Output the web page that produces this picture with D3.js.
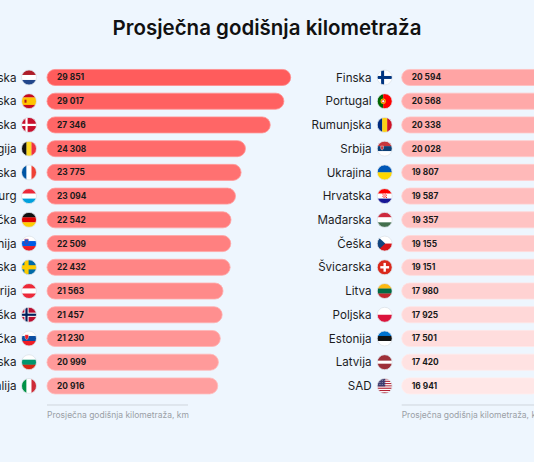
<!DOCTYPE html>
<html><head><meta charset="utf-8">
<script src="https://cdn.jsdelivr.net/npm/d3@7"></script>
<style>
html,body{margin:0;padding:0;background:#eef6fe;}
svg{display:block;font-family:Inter,"Noto Sans",sans-serif;}
</style></head>
<body><svg id="c" width="534" height="462"></svg>
<script>
const leftCountries = ["Nizozemska","Španjolska","Danska","Belgija","Francuska","Luksemburg","Njemačka","Slovenija","Švedska","Austrija","Norveška","Slovačka","Bugarska","Italija"];
const leftValues = [29851,29017,27346,24308,23775,23094,22542,22509,22432,21563,21457,21230,20999,20916];
const rightCountries = ["Finska","Portugal","Rumunjska","Srbija","Ukrajina","Hrvatska","Mađarska","Češka","Švicarska","Litva","Poljska","Estonija","Latvija","SAD"];
const rightValues = [20594,20568,20338,20028,19807,19587,19357,19155,19151,17980,17925,17501,17420,16941];
const titleText = "Prosječna godišnja kilometraža";
const axisLabel = "Prosječna godišnja kilometraža, km";

const svg = d3.select("#c");
svg.append("rect").attr("width",534).attr("height",462).attr("fill","#eef6fe");
svg.append("text").attr("x",267).attr("y",35).attr("text-anchor","middle")
  .attr("font-size",20.5).attr("font-weight",600).attr("fill","#111").text(titleText);

const n = leftCountries.length;
const maxV = d3.max(leftValues.concat(rightValues));
const x = d3.scaleLinear().domain([0, maxV]).range([0, 243.7]);
const y = d3.scaleBand().domain(d3.range(n)).range([65.6, 397.8]).paddingInner(0.325).paddingOuter(0.1625);
const color = d3.scaleLinear().domain([0, 2*n-1]).range(["#ff5c5c","#ffe7e7"]);
const fmt = v => d3.format(",")(v).replace(/,/g," ");

const R = 7.5;
let clipId = 0;
function flag(g, name){
  const id = "fc"+(clipId++);
  g.append("clipPath").attr("id",id).append("circle").attr("r",R);
  const f = g.append("g").attr("clip-path",`url(#${id})`);
  const rect = (x0,y0,w,h,c)=>f.append("rect").attr("x",x0).attr("y",y0).attr("width",w).attr("height",h).attr("fill",c);
  const hs = (cols, w)=>{ w = w||cols.map(()=>1); const t=d3.sum(w); let yy=-R; cols.forEach((c,i)=>{const h=2*R*w[i]/t; rect(-R,yy,2*R,h+0.2,c); yy+=h;}); };
  const vs = (cols, w)=>{ w = w||cols.map(()=>1); const t=d3.sum(w); let xx=-R; cols.forEach((c,i)=>{const ww=2*R*w[i]/t; rect(xx,-R,ww+0.2,2*R,c); xx+=ww;}); };
  const nordic = (bg, fg, inner)=>{ rect(-R,-R,2*R,2*R,bg); rect(-4.6,-R,4.2,2*R,fg); rect(-R,-2.1,2*R,4.2,fg);
     if(inner){ rect(-3.6,-R,2.2,2*R,inner); rect(-R,-1.1,2*R,2.2,inner);} };
  const shield = (cx,cy,fill,stroke,s)=>{ s=s||1; f.append("path").attr("d",`M${cx-1.8*s},${cy-2.2*s}h${3.6*s}v${2.4*s}q0,${1.8*s}-${1.8*s},${2.6*s}q-${1.8*s}-${0.8*s}-${1.8*s}-${2.6*s}z`).attr("fill",fill).attr("stroke",stroke||"none").attr("stroke-width",0.4); };
  switch(name){
    case "Nizozemska": hs(["#ae1c28","#fff","#21468b"]); break;
    case "Španjolska": hs(["#c60b1e","#ffc400","#c60b1e"],[1,2,1]); f.append("rect").attr("x",-4.5).attr("y",-1.5).attr("width",2).attr("height",3).attr("fill","#ad1519"); break;
    case "Danska": rect(-R,-R,2*R,2*R,"#c8102e"); rect(-3.6,-R,2.2,2*R,"#fff"); rect(-R,-1.1,2*R,2.2,"#fff"); break;
    case "Belgija": vs(["#111","#fdda24","#ef3340"]); break;
    case "Francuska": vs(["#0055a4","#fff","#ef4135"]); break;
    case "Luksemburg": hs(["#ed2939","#fff","#00a1de"]); break;
    case "Njemačka": hs(["#111","#dd0000","#ffce00"]); break;
    case "Slovenija": hs(["#fff","#005ce5","#ed1c24"]); shield(-2.5,-2.2,"#005ce5","#ed1c24"); break;
    case "Švedska": nordic("#006aa7","#fecc00"); break;
    case "Austrija": hs(["#ed2939","#fff","#ed2939"]); break;
    case "Norveška": nordic("#ba0c2f","#fff","#00205b"); break;
    case "Slovačka": hs(["#fff","#0b4ea2","#ee1c25"]); shield(-2.3,-1.6,"#ee1c25","#fff"); break;
    case "Bugarska": hs(["#fff","#00966e","#d62612"]); break;
    case "Italija": vs(["#009246","#fff","#ce2b37"]); break;
    case "Finska": rect(-R,-R,2*R,2*R,"#fff"); rect(-3.6,-R,3,2*R,"#003580"); rect(-R,-1.5,2*R,3,"#003580"); break;
    case "Portugal": vs(["#006600","#ff0000"],[2,3]); f.append("circle").attr("cx",-1.5).attr("r",2.6).attr("fill","#ffcc00"); f.append("circle").attr("cx",-1.5).attr("r",1.5).attr("fill","#fff").attr("stroke","#d00").attr("stroke-width",0.6); break;
    case "Rumunjska": vs(["#002b7f","#fcd116","#ce1126"]); break;
    case "Srbija": hs(["#c6363c","#0c4076","#fff"]); shield(-2.6,-0.8,"#c6363c","#fff",0.8); break;
    case "Ukrajina": hs(["#0057b7","#ffd700"]); break;
    case "Hrvatska": hs(["#ff0000","#fff","#171796"]); {
        const cs=1.1; for(let i=0;i<4;i++)for(let j=0;j<4;j++) rect(-2.2+i*cs,-2.5+j*cs,cs,cs,(i+j)%2?"#fff":"#f00");
      } break;
    case "Mađarska": hs(["#cd2a3e","#fff","#436f4d"]); break;
    case "Češka": hs(["#fff","#d7141a"]); f.append("path").attr("d",`M${-R},${-R}L0.5,0L${-R},${R}Z`).attr("fill","#11457e"); break;
    case "Švicarska": rect(-R,-R,2*R,2*R,"#da291c"); rect(-1.2,-4.4,2.4,8.8,"#fff"); rect(-4.4,-1.2,8.8,2.4,"#fff"); break;
    case "Litva": hs(["#fdb913","#006a44","#c1272d"]); break;
    case "Poljska": hs(["#fff","#dc143c"]); break;
    case "Estonija": hs(["#0072ce","#111","#fff"]); break;
    case "Latvija": hs(["#9e3039","#fff","#9e3039"],[2,1,2]); break;
    case "SAD": { const cols=d3.range(13).map(i=>i%2?"#fff":"#b22234"); hs(cols); rect(-R,-R,R+0.5,8,"#3c3b6e");
        for(let i=0;i<4;i++)for(let j=0;j<3;j++) f.append("circle").attr("cx",-5.5+i*1.7).attr("cy",-5.6+j*2).attr("r",0.35).attr("fill","#fff"); } break;
  }
  g.append("circle").attr("r",R).attr("fill","none").attr("stroke","#dde3ea").attr("stroke-width",0.8);
}

function panel(countries, values, x0, labelX, flagX, offset){
  const g = svg.append("g");
  const rows = g.selectAll("g.row").data(countries.map((c,i)=>({c, v:values[i], i}))).join("g").attr("class","row");
  rows.append("rect")
    .attr("x", x0).attr("y", d=>y(d.i))
    .attr("width", d=>x(d.v)).attr("height", y.bandwidth())
    .attr("rx", y.bandwidth()/2)
    .attr("fill", d=>color(d.i+offset))
    .attr("stroke", d=>d3.interpolateRgb(color(d.i+offset),"#fff")(0.3)).attr("stroke-width",0.8);
  rows.append("text").attr("x", x0+10).attr("y", d=>y(d.i)+y.bandwidth()/2).attr("dy","0.35em")
    .attr("font-size",8.4).attr("font-weight",700).attr("fill","#1a1a1a").text(d=>fmt(d.v));
  rows.append("text").attr("x", labelX).attr("y", d=>y(d.i)+y.bandwidth()/2).attr("dy","0.36em")
    .attr("text-anchor","end").attr("font-size",11.6).attr("fill","#1d1d1f").text(d=>d.c);
  rows.each(function(d){ flag(d3.select(this).append("g").attr("transform",`translate(${flagX},${y(d.i)+y.bandwidth()/2})`), d.c); });
  g.append("line").attr("x1",x0).attr("x2",x0+141).attr("y1",405).attr("y2",405).attr("stroke","#cfd5dc").attr("stroke-width",1);
  g.append("text").attr("x",x0).attr("y",417.5).attr("font-size",8.5).attr("fill","#9aa0a6").text(axisLabel);
}
panel(leftCountries, leftValues, 47, 16.5, 29, 0);
panel(rightCountries, rightValues, 401.7, 371.5, 384.7, n);
</script></body></html>
